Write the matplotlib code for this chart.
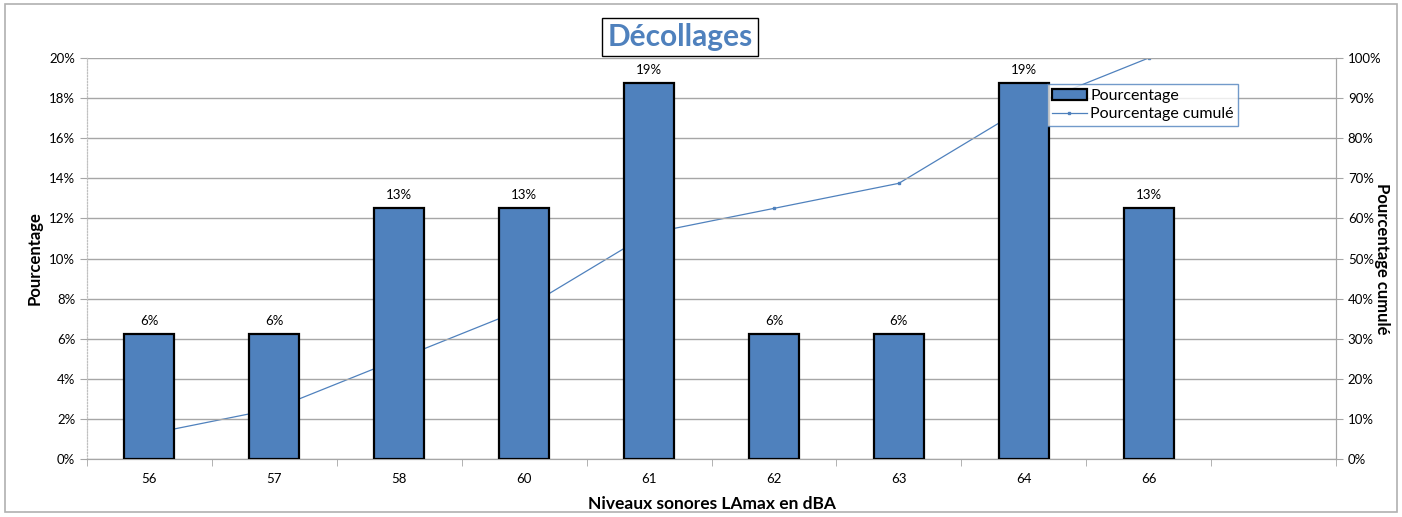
import numpy as np
import matplotlib.pyplot as plt
from matplotlib.patches import Rectangle
from matplotlib.ticker import PercentFormatter

plt.rcParams['font.family'] = ['Lato', 'DejaVu Sans']

# données
niveaux = ['56', '57', '58', '60', '61', '62', '63', '64', '66', '']
pourcentage = [6.25, 6.25, 12.5, 12.5, 18.75, 6.25, 6.25, 18.75, 12.5]
cumule = [6.25, 12.5, 25.0, 37.5, 56.25, 62.5, 68.75, 87.5, 100.0]
etiquettes = ['6%', '6%', '13%', '13%', '19%', '6%', '6%', '19%', '13%']

bleu = '#4F81BD'
gris = '#A6A6A6'

W, H = 1402, 517
fig = plt.figure(figsize=(W / 100, H / 100), dpi=100)
fig.patches.append(Rectangle((5 / W, 5 / H), 1392 / W, 508 / H, transform=fig.transFigure,
                             fill=False, edgecolor='#B0B0B0', linewidth=1.2))

ax = fig.add_axes([87 / W, (H - 459) / H, (1336 - 87) / W, (459 - 58) / H])
ax2 = ax.twinx()
ax.set_zorder(ax2.get_zorder() + 1)
ax.patch.set_visible(False)

x = np.arange(len(pourcentage))
barres = ax.bar(x, pourcentage, width=0.4, color=bleu, edgecolor='black', linewidth=1.6,
                label='Pourcentage', zorder=3)
for xi, v, t in zip(x, pourcentage, etiquettes):
    ax.text(xi, v + 0.35, t, ha='center', va='bottom', fontsize=9.5)

ligne, = ax2.plot(x, cumule, color=bleu, linewidth=0.9, marker='s', markersize=2,
                  label='Pourcentage cumulé')

ax.set_xlim(-0.5, len(niveaux) - 0.5)
ax.set_ylim(0, 20)
ax2.set_ylim(0, 100)
ax.set_yticks(np.arange(0, 21, 2))
ax2.set_yticks(np.arange(0, 101, 10))
ax.yaxis.set_major_formatter(PercentFormatter(decimals=0))
ax2.yaxis.set_major_formatter(PercentFormatter(decimals=0))

ax.set_xticks(x.tolist() + [len(pourcentage)])
ax.set_xticklabels(niveaux)
ax.set_xticks(np.arange(-0.5, len(niveaux) + 0.5, 1), minor=True)
ax.tick_params(axis='x', which='major', length=0, labelsize=9.5, pad=10)
ax.tick_params(axis='x', which='minor', length=5, color=gris)
ax.tick_params(axis='y', length=5, color=gris, labelsize=9.5)
ax2.tick_params(axis='y', length=5, color=gris, labelsize=9.5)

ax.grid(axis='y', color=gris, linewidth=1.0, zorder=0)
ax.set_axisbelow(True)

for a in (ax, ax2):
    a.spines['top'].set_visible(False)
    a.spines['bottom'].set_color(gris)
    a.spines['right'].set_color(gris)
    a.spines['left'].set_color('#C0C0C0')
    a.spines['left'].set_linestyle(':')

ax.set_xlabel('Niveaux sonores LAmax en dBA', fontsize=12.5, fontweight='bold', labelpad=8)
ax.set_ylabel('Pourcentage', fontsize=12, fontweight='bold', labelpad=5)
ax2.set_ylabel('Pourcentage cumulé', fontsize=12, fontweight='bold', rotation=-90, labelpad=6)

fig.text(680 / W, 1 - 37 / H, 'Décollages', ha='center', va='center', fontsize=21.5,
         fontweight='bold', color=bleu,
         bbox=dict(boxstyle='square,pad=0.18', facecolor='white', edgecolor='black', linewidth=1))

leg = ax.legend([barres, ligne], ['Pourcentage', 'Pourcentage cumulé'],
                loc='upper left', bbox_to_anchor=(1047 / W, 1 - 84 / H),
                bbox_transform=fig.transFigure, fontsize=11.5, frameon=True, fancybox=False,
                borderpad=0.3, labelspacing=0.25, handlelength=2.2, handletextpad=0.2,
                borderaxespad=0)
leg.get_frame().set_edgecolor(bleu)
leg.get_frame().set_linewidth(1)

fig.savefig('out.png', dpi=100)
